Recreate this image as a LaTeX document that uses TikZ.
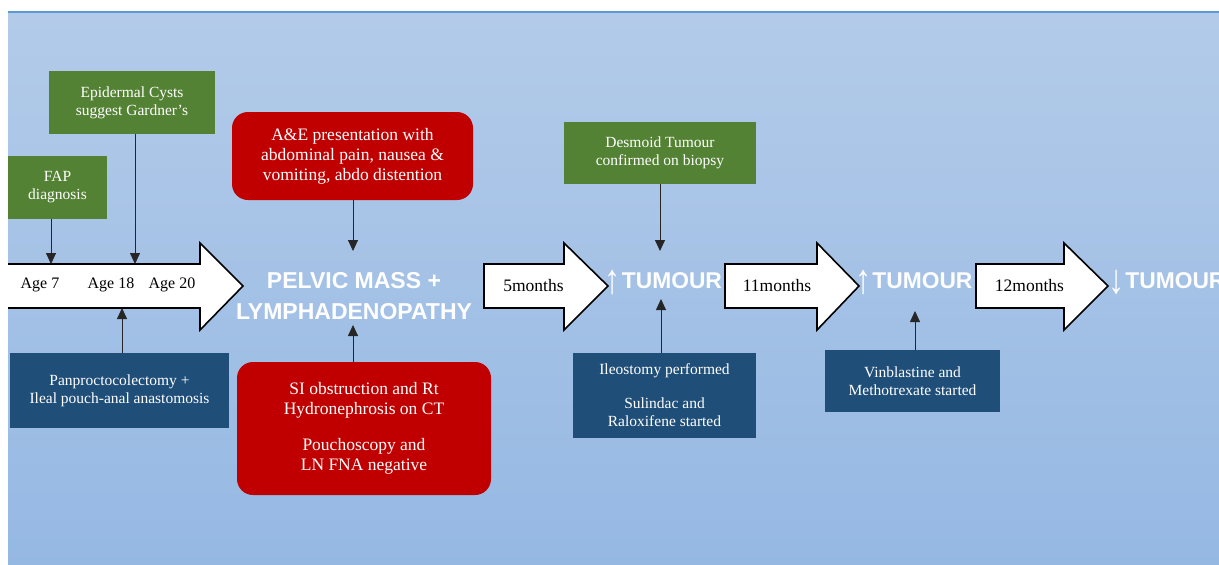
\documentclass[tikz,border=0pt]{standalone}
\usepackage{fontspec}
\setmainfont{Liberation Serif}
\newfontfamily\headfont{Liberation Sans}
\usetikzlibrary{arrows.meta}
\definecolor{bgtop}{HTML}{B3CBE9}
\definecolor{bgbot}{HTML}{95B8E3}
\definecolor{gbox}{HTML}{548235}
\definecolor{rbox}{HTML}{C00000}
\definecolor{bbox}{HTML}{1F4E79}
\definecolor{topline}{HTML}{5B9BD5}
\tikzset{
  box/.style={text=white, align=center, inner sep=0pt,
    font=\fontsize{15.5}{18}\selectfont},
  greenbox/.style={box, fill=gbox},
  bluebox/.style={box, fill=bbox},
  redbox/.style={box, fill=rbox, rounded corners=16pt, font=\fontsize{17.5}{20}\selectfont},
  conn/.style={draw=black!85, line width=0.8pt, -{Triangle[width=10pt,length=11pt]}},
  bigarr/.style={draw=black, line width=1.6pt, line join=miter},
  timetxt/.style={text=black, font=\fontsize{16}{18}\selectfont, inner sep=0pt},
  monthtxt/.style={timetxt, font=\fontsize{17.5}{18}\selectfont},
  headtxt/.style={text=white, font=\headfont\bfseries\fontsize{23}{31}\selectfont, align=center, inner sep=0pt},
  tumtxt/.style={text=white, inner sep=0pt, anchor=base west},
}
\newcommand\tumour[1]{\raisebox{-5pt}{\scalebox{0.9}[1.15]{\headfont\fontsize{36}{36}\selectfont#1}}\hspace{1pt}{\headfont\bfseries\fontsize{22.8}{25}\selectfont TUMOUR}}
\begin{document}
\begin{tikzpicture}[x=1pt,y=-1pt]
\useasboundingbox (0,0) rectangle (1219,565);
\clip (0,0) rectangle (1219,565);
% background
\shade[top color=bgtop, bottom color=bgbot] (8,12) rectangle (1219,565);
\draw[topline, line width=1.5pt] (8,12) -- (1219,12);

% big timeline arrows
\fill[white] (8,264) -- (200,264) -- (200,243) -- (243,286) -- (200,330) -- (200,308) -- (8,308) -- cycle;
\draw[bigarr] (8,264) -- (200,264) -- (200,243) -- (243,286) -- (200,330) -- (200,308) -- (8,308);
\filldraw[bigarr, fill=white] (484,264) -- (564,264) -- (564,243) -- (608,286) -- (564,330) -- (564,308) -- (484,308) -- cycle;
\filldraw[bigarr, fill=white] (725,264) -- (817,264) -- (817,243) -- (859,286) -- (817,330) -- (817,308) -- (725,308) -- cycle;
\filldraw[bigarr, fill=white] (976,264) -- (1064,264) -- (1064,243) -- (1108,286) -- (1064,330) -- (1064,308) -- (976,308) -- cycle;

% timeline labels
\node[timetxt] (a7) at (40,285) {Age 7};
\node[timetxt] (a18) at (111,285) {Age 18};
\node[timetxt] (a20) at (172,285) {Age 20};
\node[monthtxt] (m5) at (533.5,286) {5months};
\node[monthtxt] (m11) at (777,286) {11months};
\node[monthtxt] (m12) at (1029.5,286) {12months};

% headline texts
\node[headtxt] (pm) at (354,296) {PELVIC MASS +\\LYMPHADENOPATHY};
\node[tumtxt] (t1) at (604.5,288) {\tumour{↑}};
\node[tumtxt] (t2) at (855,288) {\tumour{↑}};
\node[tumtxt] (t3) at (1108,288) {\tumour{↓}};

% boxes
\node[greenbox, minimum width=166pt, minimum height=63pt] (gard) at (132,102.5) {Epidermal Cysts\\suggest Gardner's};
\node[greenbox, minimum width=99pt, minimum height=63pt] (fap) at (57.5,187.5) {FAP\\diagnosis};
\node[bluebox, minimum width=219pt, minimum height=75pt] (pan) at (119.5,390.5) {Panproctocolectomy +\\Ileal pouch-anal anastomosis};
\node[redbox, minimum width=241pt, minimum height=88pt] (ae) at (352.5,156) {A\&E presentation with\\abdominal pain, nausea \&\\vomiting, abdo distention};
\node[redbox, minimum width=254pt, minimum height=133pt] (si) at (364,428.5) {SI obstruction and Rt\\Hydronephrosis on CT\\[16pt]Pouchoscopy and\\LN FNA negative};
\node[greenbox, minimum width=192pt, minimum height=62pt] (des) at (660,153) {Desmoid Tumour\\confirmed on biopsy};
\node[bluebox, minimum width=183pt, minimum height=85pt] (ile) at (664.5,395.5) {Ileostomy performed\\[16pt]Sulindac and\\Raloxifene started};
\node[bluebox, minimum width=175pt, minimum height=62pt] (vin) at (912.5,381) {Vinblastine and\\Methotrexate started};

% connector end points
\coordinate (e7) at (51,264);
\coordinate (e18) at (135,264);
\coordinate (e18b) at (122,308);
\coordinate (epmt) at (353,251);
\coordinate (epmb) at (353,325);
\coordinate (et1t) at (660,251);
\coordinate (et1b) at (661,299);
\coordinate (et2b) at (915,311);

% connectors
\draw[conn] (fap.south -| e7) -- (e7);
\draw[conn] (gard.south -| e18) -- (e18);
\draw[conn] (pan.north -| e18b) -- (e18b);
\draw[conn] (ae.south -| epmt) -- (epmt);
\draw[conn] (si.north -| epmb) -- (epmb);
\draw[conn] (des.south -| et1t) -- (et1t);
\draw[conn] (ile.north -| et1b) -- (et1b);
\draw[conn] (vin.north -| et2b) -- (et2b);
\end{tikzpicture}
\end{document}
